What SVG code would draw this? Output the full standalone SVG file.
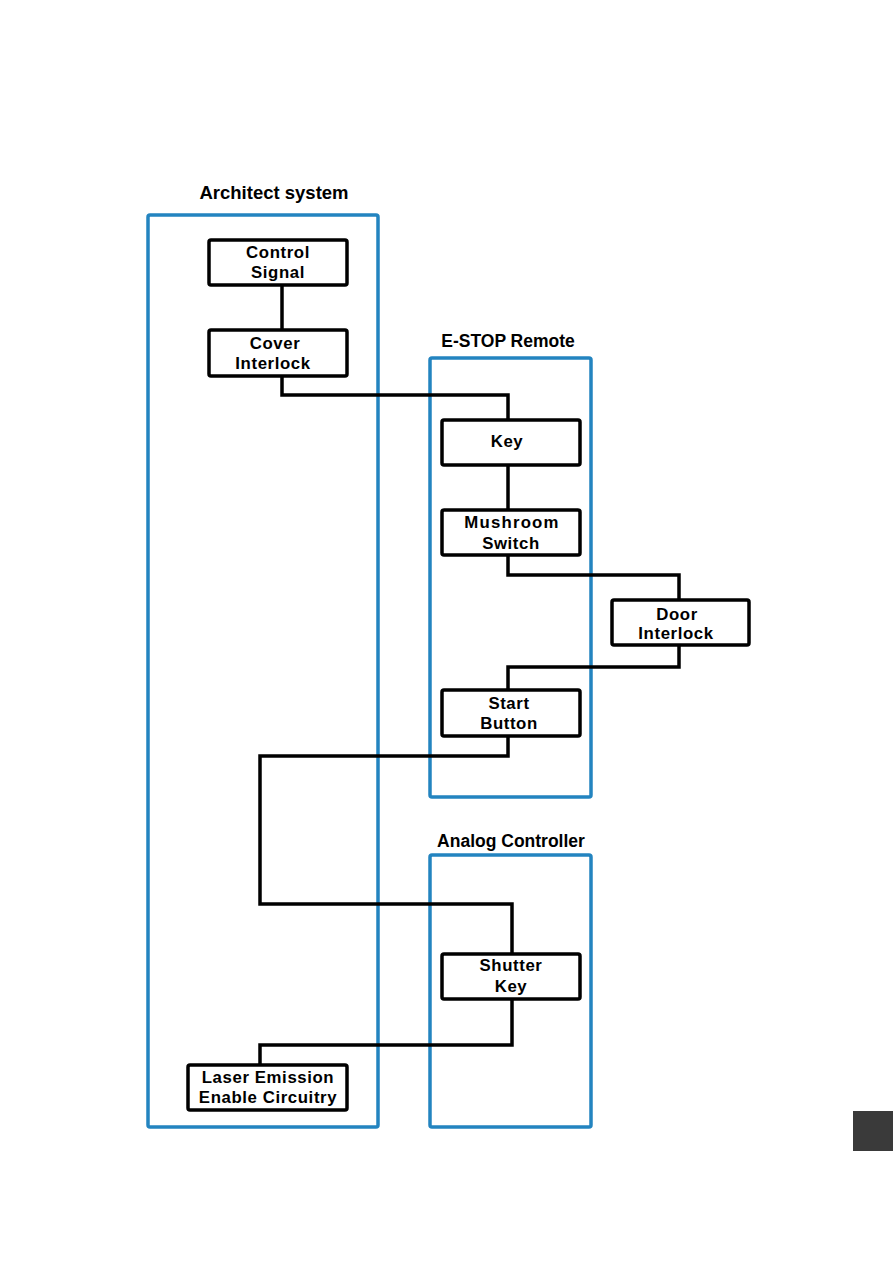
<svg xmlns="http://www.w3.org/2000/svg" width="893" height="1263" viewBox="0 0 893 1263">
<style>
.grp{fill:none;stroke:#2384c0;stroke-width:3.5}
.node{fill:#fff;stroke:#000;stroke-width:3.5}
.wire{fill:none;stroke:#000;stroke-width:3.5;stroke-linejoin:miter}
.t{font-family:"Liberation Sans",Arial,sans-serif;font-weight:bold;font-size:16.8px;text-anchor:middle;fill:#000;letter-spacing:0.6px}
.h{font-family:"Liberation Sans",Arial,sans-serif;font-weight:bold;font-size:17.5px;text-anchor:middle;fill:#000}
</style>
<rect width="893" height="1263" fill="#fff"/>
<g id="architect">
<rect class="grp" x="148" y="215" width="230" height="912" rx="2"/>
<text class="h" x="274" y="199" style="font-size:18.5px">Architect system</text>
</g>
<g id="estop">
<rect class="grp" x="430" y="358" width="161" height="439" rx="2"/>
<text class="h" x="508" y="347">E-STOP Remote</text>
</g>
<g id="analog">
<rect class="grp" x="430" y="855" width="161" height="272" rx="2"/>
<text class="h" x="511" y="847">Analog Controller</text>
</g>
<g id="connectors">
<path class="wire" d="M282 285V330"/>
<path class="wire" d="M282 376V395H508V420"/>
<path class="wire" d="M508 465V510"/>
<path class="wire" d="M508 555V575H679V600"/>
<path class="wire" d="M679 645V667H508V690"/>
<path class="wire" d="M508 736V756H260V904H512V954"/>
<path class="wire" d="M512 999V1045H260V1065"/>
</g>
<g id="control-signal">
<rect class="node" x="209" y="240" width="138" height="45" rx="2"/>
<text class="t" x="278" y="258">Control</text>
<text class="t" x="278" y="278">Signal</text>
</g>
<g id="cover-interlock">
<rect class="node" x="209" y="330" width="138" height="46" rx="2"/>
<text class="t" x="275" y="349">Cover</text>
<text class="t" x="273" y="369">Interlock</text>
</g>
<g id="key">
<rect class="node" x="442" y="420" width="138" height="45" rx="2"/>
<text class="t" x="507" y="447">Key</text>
</g>
<g id="mushroom-switch">
<rect class="node" x="442" y="510" width="138" height="45" rx="2"/>
<text class="t" x="512" y="528" style="letter-spacing:1.2px">Mushroom</text>
<text class="t" x="511" y="549">Switch</text>
</g>
<g id="door-interlock">
<rect class="node" x="612" y="600" width="137" height="45" rx="2"/>
<text class="t" x="677" y="620">Door</text>
<text class="t" x="676" y="639">Interlock</text>
</g>
<g id="start-button">
<rect class="node" x="442" y="690" width="138" height="46" rx="2"/>
<text class="t" x="509" y="709">Start</text>
<text class="t" x="509" y="729">Button</text>
</g>
<g id="shutter-key">
<rect class="node" x="442" y="954" width="138" height="45" rx="2"/>
<text class="t" x="511" y="971">Shutter</text>
<text class="t" x="511" y="992">Key</text>
</g>
<g id="laser-emission">
<rect class="node" x="188" y="1065" width="159" height="45" rx="2"/>
<text class="t" x="268" y="1083">Laser Emission</text>
<text class="t" x="268" y="1103">Enable Circuitry</text>
</g>
<rect x="853" y="1111" width="40" height="40" fill="#3a3a3a"/>
</svg>
